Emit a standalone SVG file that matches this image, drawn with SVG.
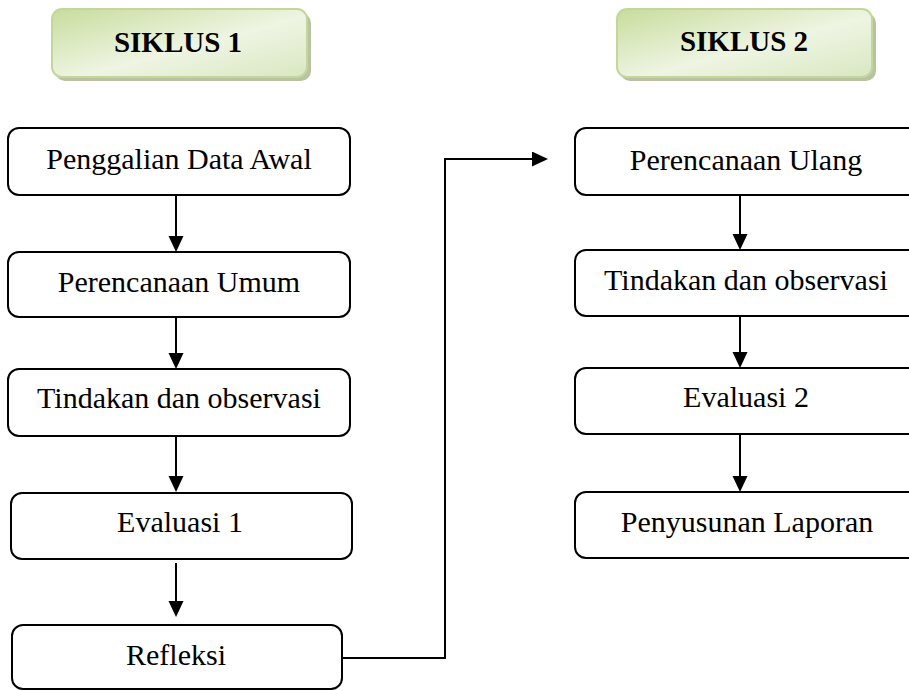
<svg xmlns="http://www.w3.org/2000/svg" width="909" height="691" viewBox="0 0 909 691">
<style>
.box{fill:#fff;stroke:#000;stroke-width:2}
.hdr{fill:url(#g);stroke:#c3d79c;stroke-width:2}
.shd{fill:#a7b48a;opacity:0.8}
.t{font-family:"Liberation Serif","Times New Roman",serif;font-size:30px;fill:#000;text-anchor:middle}
.b{font-weight:bold;font-size:29px}
.c{fill:none;stroke:#000;stroke-width:2}
</style>
<defs>
<linearGradient id="g" x1="0" y1="0" x2="1" y2="1">
<stop offset="0" stop-color="#c8dc9c"/>
<stop offset="0.55" stop-color="#eef5e3"/>
<stop offset="1" stop-color="#d9e7c0"/>
</linearGradient>
<marker id="a" markerUnits="userSpaceOnUse" markerWidth="18" markerHeight="18" refX="1" refY="7.5" orient="auto">
<path d="M0,0 L16,7.5 L0,15 z" fill="#000"/>
</marker>
</defs>
<g id="siklus1">
<rect class="shd" x="55" y="13" width="256" height="68" rx="10"/>
<rect class="hdr" x="52" y="9" width="255" height="68" rx="10"/>
<text class="t b" x="178" y="52">SIKLUS 1</text>
</g>
<g id="siklus2">
<rect class="shd" x="620" y="13" width="256" height="68" rx="10"/>
<rect class="hdr" x="617" y="9" width="255" height="68" rx="10"/>
<text class="t b" x="744" y="51">SIKLUS 2</text>
</g>
<g id="n1"><rect class="box" x="8" y="128" width="342" height="67" rx="11"/><text class="t" x="179" y="169">Penggalian Data Awal</text></g>
<g id="n2"><rect class="box" x="8" y="252" width="342" height="65" rx="11"/><text class="t" x="179" y="292">Perencanaan Umum</text></g>
<g id="n3"><rect class="box" x="8" y="369" width="342" height="67" rx="11"/><text class="t" x="179" y="408">Tindakan dan observasi</text></g>
<g id="n4"><rect class="box" x="11" y="493" width="341" height="66" rx="11"/><text class="t" x="180" y="532">Evaluasi 1</text></g>
<g id="n5"><rect class="box" x="12" y="625" width="330" height="64" rx="11"/><text class="t" x="176" y="665">Refleksi</text></g>
<g id="m1"><rect class="box" x="575" y="128" width="345" height="67" rx="11"/><text class="t" x="746" y="170">Perencanaan Ulang</text></g>
<g id="m2"><rect class="box" x="575" y="250" width="345" height="66" rx="11"/><text class="t" x="746" y="290">Tindakan dan observasi</text></g>
<g id="m3"><rect class="box" x="575" y="368" width="345" height="66" rx="11"/><text class="t" x="746" y="407">Evaluasi 2</text></g>
<g id="m4"><rect class="box" x="575" y="492" width="345" height="66" rx="11"/><text class="t" x="747" y="532">Penyusunan Laporan</text></g>
<g id="connectors">
<line class="c" x1="176" y1="195" x2="176" y2="237" marker-end="url(#a)"/>
<line class="c" x1="176" y1="317" x2="176" y2="354" marker-end="url(#a)"/>
<line class="c" x1="176" y1="436" x2="176" y2="477" marker-end="url(#a)"/>
<line class="c" x1="176" y1="563" x2="176" y2="602" marker-end="url(#a)"/>
<line class="c" x1="740" y1="195" x2="740" y2="235" marker-end="url(#a)"/>
<line class="c" x1="740" y1="316" x2="740" y2="353" marker-end="url(#a)"/>
<line class="c" x1="740" y1="434" x2="740" y2="477" marker-end="url(#a)"/>
<polyline class="c" points="342,658 445,658 445,159 533,159" marker-end="url(#a)"/>
</g>
</svg>
